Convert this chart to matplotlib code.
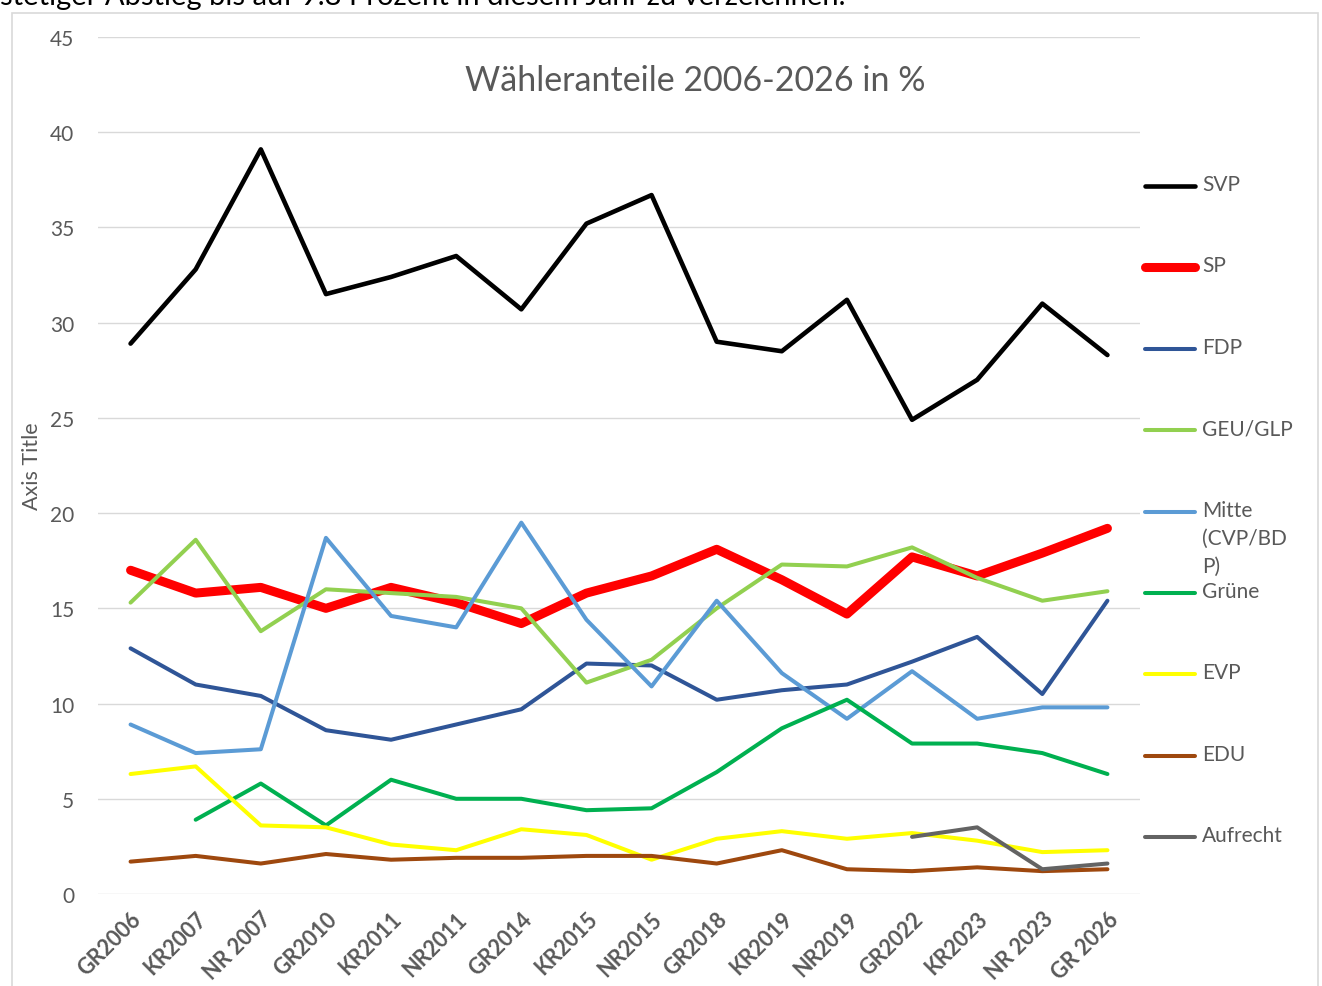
import matplotlib
matplotlib.use('Agg')
from matplotlib import pyplot as plt
from matplotlib.patches import Rectangle
import numpy as np

plt.rcParams['font.family'] = ['Lato', 'DejaVu Sans']

ELECTIONS = ['GR2006', 'KR2007', 'NR 2007', 'GR2010', 'KR2011', 'NR2011', 'GR2014', 'KR2015',
             'NR2015', 'GR2018', 'KR2019', 'NR2019', 'GR2022', 'KR2023', 'NR 2023', 'GR 2026']

SVP = [28.9, 32.8, 39.1, 31.5, 32.4, 33.5, 30.7, 35.2, 36.7, 29.0, 28.5, 31.2, 24.9, 27.0, 31.0, 28.3]
SP = [17.0, 15.8, 16.1, 15.0, 16.1, 15.3, 14.2, 15.8, 16.7, 18.1, 16.5, 14.7, 17.7, 16.7, 17.9, 19.2]
FDP = [12.9, 11.0, 10.4, 8.6, 8.1, 8.9, 9.7, 12.1, 12.0, 10.2, 10.7, 11.0, 12.2, 13.5, 10.5, 15.4]
GEU = [15.3, 18.6, 13.8, 16.0, 15.8, 15.6, 15.0, 11.1, 12.3, 15.0, 17.3, 17.2, 18.2, 16.6, 15.4, 15.9]
MITTE = [8.9, 7.4, 7.6, 18.7, 14.6, 14.0, 19.5, 14.4, 10.9, 15.4, 11.6, 9.2, 11.7, 9.2, 9.8, 9.8]
GRUENE = [np.nan, 3.9, 5.8, 3.6, 6.0, 5.0, 5.0, 4.4, 4.5, 6.4, 8.7, 10.2, 7.9, 7.9, 7.4, 6.3]
EVP = [6.3, 6.7, 3.6, 3.5, 2.6, 2.3, 3.4, 3.1, 1.8, 2.9, 3.3, 2.9, 3.2, 2.8, 2.2, 2.3]
EDU = [1.7, 2.0, 1.6, 2.1, 1.8, 1.9, 1.9, 2.0, 2.0, 1.6, 2.3, 1.3, 1.2, 1.4, 1.2, 1.3]
AUFRECHT = [np.nan] * 12 + [3.0, 3.5, 1.3, 1.6]

SERIES = [SVP, SP, FDP, GEU, MITTE, GRUENE, EVP, EDU, AUFRECHT]
LABELS = ['SVP', 'SP', 'FDP', 'GEU/GLP', 'Mitte\n(CVP/BD\nP)', 'Grüne', 'EVP', 'EDU', 'Aufrecht']
COLORS = ['#000000', '#FF0000', '#2F5597', '#92D050', '#5B9BD5', '#00B050', '#FFFF00', '#9E480E', '#636363']
WIDTHS = [3.3, 6.5, 2.9, 2.9, 2.9, 2.9, 2.9, 2.9, 2.9]

TEXT_GRAY = '#595959'

fig = plt.figure(figsize=(13.22, 9.87), dpi=100)
fig.patches.append(Rectangle((12 / 1322, -0.01), 1306 / 1322, 1 - 14 / 987 + 0.01,
                             transform=fig.transFigure, fill=False, edgecolor='#D9D9D9', lw=1.2))
fig.text(0.0, 1 - 5 / 987, 'stetiger Abstieg bis auf 9.8 Prozent in diesem Jahr zu verzeichnen.',
         fontsize=21, color='black', va='baseline', ha='left')

ax = fig.add_axes([98 / 1322, 1 - 895 / 987, (1140 - 98) / 1322, (895 - 38) / 987])
x = np.arange(len(ELECTIONS))
for vals, col, lw in zip(SERIES, COLORS, WIDTHS):
    ax.plot(x, vals, color=col, lw=lw, solid_capstyle='round', solid_joinstyle='round')

ax.set_xlim(-0.5, len(ELECTIONS) - 0.5)
ax.set_ylim(0, 45)
ax.set_yticks(np.arange(0, 46, 5))
ax.grid(axis='y', color='#D9D9D9', lw=1.0)
ax.set_axisbelow(True)
for s in ax.spines.values():
    s.set_visible(False)
ax.tick_params(axis='both', length=0, labelsize=15, labelcolor=TEXT_GRAY)
ax.tick_params(axis='y', pad=17)
ax.set_xticks(x)
ax.set_xticklabels(ELECTIONS, rotation=45, ha='right', va='top', rotation_mode='anchor',
                   fontweight='bold', fontsize=15.5)
ax.tick_params(axis='x', pad=10)

fig.text(695 / 1322, 1 - 81 / 987, 'Wähleranteile 2006-2026 in %', fontsize=24.5,
         color=TEXT_GRAY, ha='center', va='center')
fig.text(32 / 1322, 1 - 466 / 987, 'Axis Title', rotation=90, fontsize=15.5, color=TEXT_GRAY,
         ha='center', va='center')

# legend on the right, drawn by hand to mimic the Excel layout
for i, (lab, col, lw) in enumerate(zip(LABELS, COLORS, WIDTHS)):
    yy = 1 - (187 + i * 81.4) / 987
    fig.add_artist(plt.Line2D([1145 / 1322, 1195 / 1322], [yy, yy], color=col,
                              lw=lw, solid_capstyle='round', transform=fig.transFigure))
    fig.text(1202 / 1322, yy + 12 / 987, lab, fontsize=15, color=TEXT_GRAY, ha='left', va='top',
             linespacing=1.5, transform=fig.transFigure)

fig.savefig('out.png', dpi=100)
